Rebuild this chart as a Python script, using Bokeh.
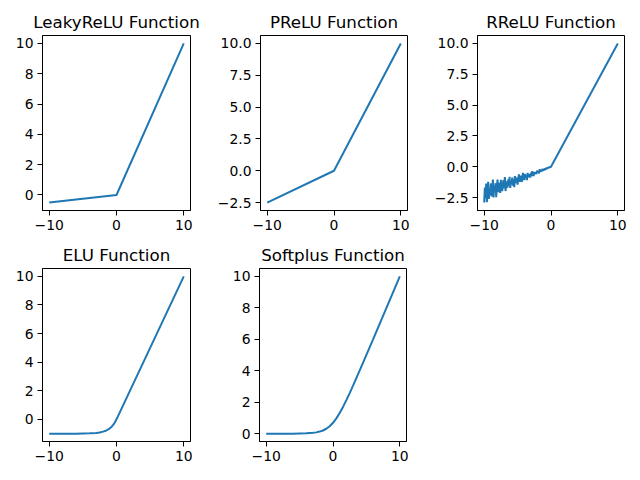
from bokeh.plotting import figure
from bokeh.layouts import column, row
from bokeh.models import FixedTicker, Range1d
from bokeh.embed import file_html
from bokeh.resources import INLINE
import numpy as np

# ---------------- data ----------------
x_ticks = [-10, 0, 10]
x_tick_labels = {-10: "\u221210", 0: "0", 10: "10"}

leaky_x = [-10, 0, 10]
leaky_y = [-0.5, 0.0, 10.0]

prelu_x = [-10, 0, 10]
prelu_y = [-2.5, 0.0, 10.0]

rrelu_neg_x = list(np.round(np.arange(-10.0, 0.0, 0.1), 1))
rrelu_neg_y = [
    -2.90, -1.68, -2.55, -1.36, -2.88, -2.09, -1.22, -2.60, -1.75, -2.28,
    -1.35, -2.40, -1.85, -1.04, -2.49, -1.53, -2.02, -1.33, -2.46, -1.62,
    -1.04, -2.05, -1.79, -1.31, -2.13, -1.05, -1.63, -1.97, -1.37, -1.07,
    -1.75, -0.83, -1.97, -1.41, -1.19, -1.69, -1.02, -1.51, -0.81, -1.71,
    -1.20, -1.36, -0.87, -1.54, -1.01, -1.65, -0.76, -1.17, -1.30, -0.87,
    -1.45, -0.93, -0.62, -1.22, -0.97, -0.72, -1.23, -1.03, -0.50, -0.82,
    -1.08, -0.59, -0.87, -0.67, -1.08, -0.49, -0.85, -0.63, -0.70, -0.87,
    -0.48, -0.75, -0.36, -0.57, -0.75, -0.43, -0.58, -0.46, -0.59, -0.32,
    -0.46, -0.34, -0.54, -0.20, -0.40, -0.29, -0.39, -0.18, -0.26, -0.29,
    -0.17, -0.19, -0.23, -0.09, -0.14, -0.10, -0.06, -0.08, -0.04, -0.02,
]
rrelu_pos_x = [0, 10]
rrelu_pos_y = [0.0, 10.0]

elu_x = [-10, -8, -6, -5, -4, -3, -2.5, -2, -1.5, -1, -0.75, -0.5, -0.25, 0, 10]
elu_y = [-1.0, -1.0, -1.0, -0.99, -0.98, -0.95, -0.92, -0.86, -0.78, -0.63,
         -0.53, -0.39, -0.22, 0.0, 10.0]

softplus_x = [-10, -8, -6, -5, -4, -3, -2.5, -2, -1.5, -1, -0.5, 0, 0.5, 1,
              1.5, 2, 2.5, 3, 4, 5, 6, 8, 10]
softplus_y = [0.00, 0.00, 0.00, 0.01, 0.02, 0.05, 0.08, 0.13, 0.20, 0.31, 0.47,
              0.69, 0.97, 1.31, 1.70, 2.13, 2.58, 3.05, 4.02, 5.01, 6.00, 8.00,
              10.00]

int_ticks = [0, 2, 4, 6, 8, 10]
int_labels = {0: "0", 2: "2", 4: "4", 6: "6", 8: "8", 10: "10"}
half_ticks = [-2.5, 0, 2.5, 5, 7.5, 10]
half_labels = {-2.5: "\u22122.5", 0: "0.0", 2.5: "2.5", 5: "5.0", 7.5: "7.5", 10: "10.0"}
leaky_ticks = [0, 2, 4, 6, 8, 10]
leaky_labels = {0: "0", 2: "2", 4: "4", 6: "6", 8: "8", 10: "10"}

C0 = "#1f77b4"
FONT = "DejaVu Sans"


def make_fig(title, series, yticks, ylabels, left, right, top, bottom, fw, fh):
    all_x = [v for xs, _ in series for v in xs]
    all_y = [v for _, ys in series for v in ys]
    xmin, xmax = min(all_x), max(all_x)
    ymin, ymax = min(all_y), max(all_y)
    px = 0.05 * (xmax - xmin)
    py = 0.05 * (ymax - ymin)
    p = figure(frame_width=fw, frame_height=fh,
               min_border_left=left, min_border_right=right,
               min_border_top=top, min_border_bottom=bottom,
               x_range=Range1d(xmin - px, xmax + px),
               y_range=Range1d(ymin - py, ymax + py),
               output_backend="svg", toolbar_location=None, title=title)
    for xs, ys in series:
        p.line(xs, ys, line_color=C0, line_width=2)
    p.title.text_font = FONT
    p.title.text_font_size = "16.7px"
    p.title.text_font_style = "normal"
    p.title.text_color = "black"
    p.title.align = "center"
    p.title.standoff = 7
    p.xgrid.visible = False
    p.ygrid.visible = False
    p.outline_line_color = "black"
    p.outline_line_width = 1
    p.outline_line_alpha = 1
    p.background_fill_color = "white"
    p.border_fill_color = "white"
    p.xaxis.ticker = FixedTicker(ticks=x_ticks, minor_ticks=[])
    p.xaxis.major_label_overrides = x_tick_labels
    p.yaxis.ticker = FixedTicker(ticks=yticks, minor_ticks=[])
    p.yaxis.major_label_overrides = ylabels
    for ax in (p.xaxis[0], p.yaxis[0]):
        ax.axis_line_color = "black"
        ax.axis_line_width = 1
        ax.major_tick_line_color = "black"
        ax.major_tick_line_width = 1
        ax.major_tick_in = 0
        ax.major_tick_out = 5
        ax.minor_tick_line_color = None
        ax.major_label_standoff = 4
        ax.major_label_text_font = FONT
        ax.major_label_text_font_size = "13.9px"
        ax.major_label_text_color = "black"
    return p


f1 = make_fig("LeakyReLU Function", [(leaky_x, leaky_y)], leaky_ticks, leaky_labels,
              42, 24, 35, 29, 148, 175)
f2 = make_fig("PReLU Function", [(prelu_x, prelu_y)], half_ticks, half_labels,
              45, 24, 35, 29, 147, 175)
f3 = make_fig("RReLU Function",
              [(rrelu_neg_x + rrelu_pos_x, rrelu_neg_y + rrelu_pos_y)],
              half_ticks, half_labels, 45, 8, 35, 29, 147, 175)
f4 = make_fig("ELU Function", [(elu_x, elu_y)], int_ticks, int_labels,
              42, 24, 29, 30, 148, 173)
f5 = make_fig("Softplus Function", [(softplus_x, softplus_y)], int_ticks, int_labels,
              45, 24, 29, 30, 147, 173)

layout = column(row(f1, f2, f3), row(f4, f5))

open("out.html", "w").write(file_html(layout, INLINE))
